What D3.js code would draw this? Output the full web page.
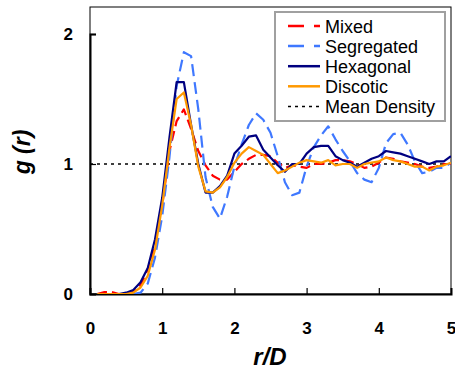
<!DOCTYPE html>
<html>
<head>
<meta charset="utf-8">
<script src="https://cdn.jsdelivr.net/npm/d3@7"></script>
<style>
  body { margin: 0; background: #fff; }
  text { font-family: "Liberation Sans", Arial, sans-serif; }
</style>
</head>
<body>
<div id="chart"></div>
<script>
var width = 455,
  height = 371;

// r/D sample points
var rValues = [0.1,0.2,0.3,0.4,0.5,0.6,0.7,0.8,0.9,1.0,
  1.1,1.2,1.3,1.4,1.5,1.6,1.7,1.8,1.9,2.0,
  2.1,2.2,2.3,2.4,2.5,2.6,2.7,2.8,2.9,3.0,
  3.1,3.2,3.3,3.4,3.5,3.6,3.7,3.8,3.9,4.0,
  4.1,4.2,4.3,4.4,4.5,4.6,4.7,4.8,4.9,5.0];

var gMixed = [0,0.015,0.015,0,0,0.02,0.07,0.19,0.37,0.68,
  1.1,1.33,1.42,1.27,1.1,0.99,0.91,0.88,0.88,0.94,
  1.0,1.04,1.07,1.07,1.06,1.01,0.97,0.99,0.98,0.97,
  1.0,1.0,1.01,1.03,1.03,1.02,1.0,0.97,0.98,1.01,
  1.05,1.04,1.02,1.01,1.0,0.98,0.97,0.98,1.0,1.0];

var gSegregated = [0,0,0,0,0,0,0.01,0.08,0.28,0.6,
  1.05,1.6,1.86,1.83,1.42,0.9,0.67,0.58,0.75,0.98,
  1.15,1.3,1.39,1.34,1.24,1.06,0.86,0.76,0.78,0.98,
  1.13,1.22,1.29,1.19,1.1,1.02,0.93,0.88,0.86,0.97,
  1.16,1.23,1.24,1.15,1.02,0.93,0.94,0.97,0.97,1.01];

var gHexagonal = [0,0,0,0,0.01,0.03,0.09,0.2,0.42,0.74,
  1.2,1.63,1.63,1.3,1.0,0.78,0.78,0.83,0.91,1.08,
  1.14,1.21,1.22,1.11,1.05,0.99,0.94,1.0,1.0,1.08,
  1.13,1.14,1.14,1.06,1.03,1.01,0.98,1.01,1.04,1.06,
  1.1,1.09,1.08,1.06,1.04,1.02,1.0,1.02,1.02,1.06];

var gDiscotic = [0,0,0,0,0,0.01,0.05,0.14,0.34,0.68,
  1.12,1.5,1.55,1.3,0.98,0.79,0.78,0.82,0.9,1.01,
  1.08,1.13,1.1,1.07,1.0,0.93,0.95,0.98,1.01,1.03,
  1.02,1.01,1.03,0.99,1.0,1.0,0.97,1.0,1.01,1.02,
  1.05,1.03,1.02,1.0,0.98,0.98,0.95,0.98,0.99,1.01];

var meanDensity = 1;
var xTicks = [0,1,2,3,4,5];
var yTicks = [0,1,2];

var seriesNames = ["Mixed","Segregated","Hexagonal","Discotic"];
var seriesValues = [gMixed, gSegregated, gHexagonal, gDiscotic];
var seriesColors = ["#ff0000","#3f78ff","#000080","#ff9900"];
var seriesDash = ["10,5","12,6",null,null];

var plotLeft = 90, plotRight = 451, plotTop = 7, plotBottom = 294;

var svg = d3.select( "#chart" )
  .append( "svg" )
  .attr( "width", width )
  .attr( "height", height );

var x = d3.scaleLinear().domain( [0,5] ).range( [plotLeft,plotRight] );
var y = d3.scaleLinear().domain( [0,2] ).range( [plotBottom,34] );

svg.append( "defs" ).append( "clipPath" ).attr( "id", "plotclip" )
  .append( "rect" )
  .attr( "x", plotLeft ).attr( "y", plotTop )
  .attr( "width", plotRight-plotLeft ).attr( "height", plotBottom-plotTop );

// frame
svg.append( "rect" )
  .attr( "x", plotLeft ).attr( "y", plotTop )
  .attr( "width", plotRight-plotLeft ).attr( "height", plotBottom-plotTop )
  .attr( "fill", "none" )
  .attr( "stroke", "#000" )
  .attr( "stroke-width", 1 );

// axes
var xAxis = svg.append( "g" )
  .attr( "transform", "translate(0," + plotBottom + ")" )
  .call( d3.axisBottom( x ).tickValues( xTicks ).tickSize( -6 ).tickPadding( 28 ).tickFormat( d3.format( "d" ) ) );
var yAxis = svg.append( "g" )
  .attr( "transform", "translate(" + plotLeft + ",0)" )
  .call( d3.axisLeft( y ).tickValues( yTicks ).tickSize( -6 ).tickPadding( 17 ).tickFormat( d3.format( "d" ) ) );

[xAxis, yAxis].forEach( function(a){
  a.select( ".domain" ).attr( "stroke", "#000" ).attr( "stroke-width", 2 );
  a.selectAll( ".tick line" ).attr( "stroke", "#000" ).attr( "stroke-width", 1.2 );
  a.selectAll( ".tick text" )
    .attr( "fill", "#000" )
    .style( "font-family", "'Liberation Sans', Arial, sans-serif" )
    .style( "font-size", "17px" )
    .style( "font-weight", "bold" );
});
xAxis.selectAll( ".tick" ).filter( function(d){ return d == 0 || d == 5; } ).select( "line" ).remove();
yAxis.selectAll( ".tick" ).filter( function(d){ return d == 0; } ).select( "line" ).remove();

var plot = svg.append( "g" ).attr( "clip-path", "url(#plotclip)" );

// mean density reference line
plot.append( "line" )
  .attr( "x1", plotLeft ).attr( "x2", plotRight )
  .attr( "y1", y( meanDensity ) ).attr( "y2", y( meanDensity ) )
  .attr( "stroke", "#000" )
  .attr( "stroke-width", 1.5 )
  .attr( "stroke-dasharray", "3,4" );

var line = d3.line()
  .x( function(d){ return x( d[0] ); } )
  .y( function(d){ return y( d[1] ); } );

seriesValues.forEach( function(vals, i){
  plot.append( "path" )
    .datum( rValues.map( function(r, j){ return [r, vals[j]]; } ) )
    .attr( "fill", "none" )
    .attr( "stroke", seriesColors[i] )
    .attr( "stroke-width", 2.2 )
    .attr( "stroke-linejoin", "round" )
    .attr( "stroke-dasharray", seriesDash[i] )
    .attr( "d", line );
});

// legend
var legend = svg.append( "g" );
legend.append( "rect" )
  .attr( "x", 275 ).attr( "y", 12 )
  .attr( "width", 170 ).attr( "height", 109 )
  .attr( "fill", "#fff" )
  .attr( "stroke", "#a0a0a0" )
  .attr( "stroke-width", 2 );

var legendNames = seriesNames.concat( ["Mean Density"] );
var legendColors = seriesColors.concat( ["#000"] );
var legendDash = ["16,10","16,10",null,null,"3,4"];

legendNames.forEach( function(name, i){
  var yy = 26 + i*20.1;
  legend.append( "line" )
    .attr( "x1", 288 ).attr( "x2", 320 )
    .attr( "y1", yy ).attr( "y2", yy )
    .attr( "stroke", legendColors[i] )
    .attr( "stroke-width", i == 4 ? 1.5 : 2.5 )
    .attr( "stroke-dasharray", legendDash[i] );
  legend.append( "text" )
    .attr( "x", 325 ).attr( "y", yy + 6.5 )
    .attr( "fill", "#000" )
    .style( "font-size", "18px" )
    .text( name );
});

// axis titles
svg.append( "text" )
  .attr( "x", 270 ).attr( "y", 365 )
  .attr( "text-anchor", "middle" )
  .style( "font-size", "24px" )
  .style( "font-weight", "bold" )
  .style( "font-style", "italic" )
  .text( "r/D" );

svg.append( "text" )
  .attr( "transform", "translate(30,152) rotate(-90)" )
  .attr( "text-anchor", "middle" )
  .style( "font-size", "23px" )
  .style( "font-weight", "bold" )
  .style( "font-style", "italic" )
  .text( "g (r)" );
</script>
</body>
</html>
